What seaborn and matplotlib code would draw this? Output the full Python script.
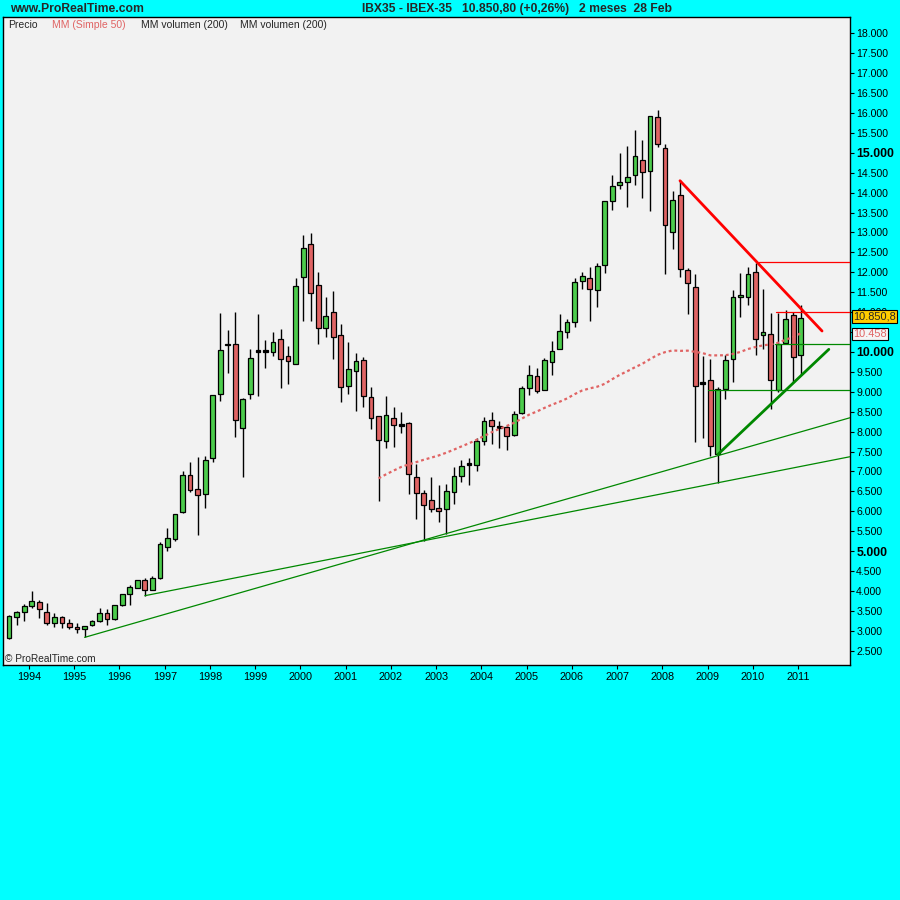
import numpy as np
import pandas as pd
import matplotlib
matplotlib.use('Agg')
import matplotlib.pyplot as plt
import matplotlib.transforms as mtransforms
import seaborn as sns

# velas bimestrales IBEX-35 (jul 1993 - feb 2011)
apertura = [2809, 3336, 3462, 3613, 3730, 3462, 3203, 3336, 3186, 3085,
            3035, 3136, 3236, 3445, 3286, 3638, 3914, 4065, 4266, 4023,
            4315, 5110, 5311, 5972, 6901, 6550, 6424, 7328, 8935, 10166,
            10191, 8082, 8935, 10007, 9998, 9990, 10317, 9890, 9689, 11873,
            12702, 11672, 10593, 10995, 10417, 9136, 9513, 9789, 8860, 8383,
            7755, 8333, 8148, 8207, 6851, 6449, 6273, 6072, 6047, 6474,
            6876, 7169, 7152, 7755, 8282, 8098, 8106, 7906, 8458, 9085,
            9386, 9035, 9738, 10064, 10491, 10742, 11772, 11847, 11546, 12173,
            13781, 14182, 14258, 14433, 14810, 14534, 15890, 15111, 13002, 13931,
            12048, 11622, 9203, 9286, 7428, 9060, 9814, 11371, 11371, 11998,
            10433, 10441, 9052, 10232, 10919, 9914]
maximo = [3387, 3487, 3663, 3998, 3772, 3688, 3437, 3370, 3303, 3186,
          3127, 3270, 3571, 3537, 3646, 3914, 4148, 4282, 4316, 4383,
          5219, 5571, 5922, 7001, 7228, 7353, 7378, 8910, 10969, 10542,
          10994, 8835, 10065, 10952, 10291, 10492, 10568, 10141, 11848, 12936,
          12978, 11999, 11371, 11522, 10693, 10241, 9965, 9865, 9111, 8383,
          8885, 8609, 8483, 8232, 7177, 6524, 6851, 6650, 6675, 7102,
          7278, 7328, 7839, 8357, 8483, 8274, 8173, 8508, 9136, 9662,
          9587, 9838, 10265, 10943, 10818, 11847, 11998, 12123, 12224, 13781,
          14433, 14986, 15162, 15563, 15312, 15915, 16066, 15212, 14032, 14308,
          12099, 11948, 9889, 9814, 9111, 9914, 11546, 11973, 12124, 12224,
          11572, 10969, 10969, 11044, 11011, 11170]
minimo = [2792, 3144, 3253, 3579, 3311, 3144, 3085, 3060, 3035, 2935,
          2834, 3127, 3211, 3144, 3270, 3621, 3638, 4065, 3880, 4023,
          4290, 5010, 5261, 5947, 6491, 5412, 6089, 7245, 8776, 9479,
          7872, 6868, 8810, 8902, 9605, 9906, 9103, 9203, 9689, 10785,
          10785, 10208, 10384, 9831, 8751, 8952, 8525, 8626, 8073, 6265,
          7596, 7621, 7956, 6441, 5813, 5261, 5989, 5738, 5437, 6190,
          6742, 6667, 7018, 7654, 7680, 7596, 7546, 7880, 8433, 8909,
          8960, 9035, 9411, 10064, 10341, 10617, 11571, 10767, 11119, 11973,
          13555, 14082, 13630, 14182, 13856, 13530, 15136, 11947, 12575, 11889,
          10944, 7746, 7830, 7395, 6700, 8826, 9253, 10885, 11186, 9931,
          10082, 8575, 8985, 10232, 9236, 9412]
cierre = [3370, 3462, 3621, 3738, 3537, 3203, 3336, 3203, 3085, 3035,
          3110, 3244, 3445, 3286, 3638, 3914, 4090, 4266, 4023, 4316,
          5169, 5320, 5922, 6901, 6542, 6399, 7278, 8910, 10040, 10166,
          8282, 8810, 9839, 10007, 9998, 10241, 9814, 9764, 11647, 12602,
          11472, 10593, 10894, 10367, 9111, 9563, 9764, 8885, 8333, 7780,
          8408, 8157, 8148, 6926, 6449, 6148, 6047, 5997, 6499, 6876,
          7127, 7169, 7755, 8257, 8131, 8098, 7880, 8433, 9086, 9411,
          9010, 9788, 10014, 10516, 10742, 11747, 11897, 11571, 12148, 13781,
          14157, 14258, 14383, 14910, 14509, 15915, 15212, 13178, 13806, 12073,
          11722, 9136, 9203, 7629, 9060, 9789, 11371, 11421, 11948, 10333,
          10508, 9286, 10190, 10818, 9864, 10851]
inicio = 1993.56  # fecha de la primera vela

# lineas de tendencia dibujadas (fecha, valor)
soporte_largo_f = [1995.23, 2012.15]
soporte_largo_v = [2834, 8349]
soporte_medio_f = [1996.56, 2012.15]
soporte_medio_v = [3880, 7370]
soporte_corto_f = [2009.23, 2011.68]
soporte_corto_v = [7430, 10066]
resistencia_f = [2008.39, 2011.53]
resistencia_v = [14299, 10526]
horiz_rojas_f = [2010.14, 2010.51]
horiz_rojas_v = [12258, 11010]
horiz_verdes_f = [2010.48, 2009.02]
horiz_verdes_v = [10199, 9044]

anios = list(range(1994, 2012))
niveles = list(range(2500, 18001, 500))

VERDE = '#4ccc4c'
ROJO = '#e06464'
CIAN = '#00ffff'

sns.set_style('white')
plt.rcParams['font.family'] = ['Liberation Sans', 'DejaVu Sans']

df = pd.DataFrame({'open': apertura, 'high': maximo, 'low': minimo, 'close': cierre})
df['fecha'] = inicio + np.arange(len(df)) / 6
df['mm50'] = df['close'].rolling(50).mean()
sube = df['close'] >= df['open']
doji = (df['close'] - df['open']).abs() < 30

fig = plt.figure(figsize=(9, 9), dpi=100, facecolor=CIAN)
ax = fig.add_axes([3 / 900, 235 / 900, 847 / 900, 648 / 900])
ax.set_facecolor('#f2f2f2')

# velas
ax.vlines(df['fecha'], df['low'], df['high'], color='black', lw=1.0, zorder=2)
cuerpo_base = np.minimum(df['open'], df['close'])
cuerpo_alto = np.maximum((df['close'] - df['open']).abs(), 45)
colores = np.where(doji, 'black', np.where(sube, VERDE, ROJO))
ax.bar(df['fecha'], cuerpo_alto, bottom=cuerpo_base, width=0.105, color=colores,
       edgecolor='black', linewidth=0.9, zorder=3)

# media movil simple 50
sns.lineplot(data=df, x='fecha', y='mm50', ax=ax, color=ROJO, lw=1.6,
             linestyle=(0, (1.3, 1.3)), zorder=4)

# lineas de tendencia
sns.lineplot(x=soporte_largo_f, y=soporte_largo_v, ax=ax, color='#008800', lw=0.9, zorder=5)
sns.lineplot(x=soporte_medio_f, y=soporte_medio_v, ax=ax, color='#008800', lw=0.9, zorder=5)
sns.lineplot(x=soporte_corto_f, y=soporte_corto_v, ax=ax, color='#008800', lw=2.0, zorder=5)
sns.lineplot(x=resistencia_f, y=resistencia_v, ax=ax, color='#ff0000', lw=2.0, zorder=5)
for f, v in zip(horiz_rojas_f, horiz_rojas_v):
    ax.plot([f, 2012.15], [v, v], color='#ff0000', lw=0.9, zorder=5)
for f, v in zip(horiz_verdes_f, horiz_verdes_v):
    ax.plot([f, 2012.15], [v, v], color='#008800', lw=0.9, zorder=5)

ax.set_xlim(1993.425, 2012.148)
ax.set_ylim(2140, 18410)
ax.set_xlabel('')
ax.set_ylabel('')

ax.set_xticks(anios, labels=[str(a) for a in anios])
ax.yaxis.tick_right()
ax.set_yticks(niveles, labels=[f'{n:,}'.replace(',', '.') for n in niveles])
for lbl, n in zip(ax.get_yticklabels(), niveles):
    if n % 5000 == 0:
        lbl.set_fontweight('bold')
        lbl.set_fontsize(8.8)
    else:
        lbl.set_fontsize(7.6)
ax.tick_params(axis='x', bottom=True, direction='out', length=3, width=0.8,
               pad=2, labelsize=7.8, colors='black')
ax.tick_params(axis='y', right=True, left=False, direction='out', length=3,
               width=0.8, pad=1.5, colors='black')
for s in ax.spines.values():
    s.set_color('black')
    s.set_linewidth(1.0)
ax.grid(False)

# etiquetas de precio a la derecha (tapan la etiqueta 11.000 como en el original)
trans = mtransforms.blended_transform_factory(ax.transAxes, ax.transData)
ax.text(1.004, cierre[-1] + 40, '10.850,8', transform=trans, fontsize=7.9, va='center',
        ha='left', clip_on=False, zorder=10,
        bbox=dict(boxstyle='square,pad=0.12', fc='#ffcc00', ec='black', lw=0.8))
ax.text(1.004, 10450, '10.458', transform=trans, fontsize=7.9, va='center',
        ha='left', color=ROJO, clip_on=False, zorder=9,
        bbox=dict(boxstyle='square,pad=0.12', fc='#f4f4f4', ec='black', lw=0.8))

# textos
fig.text(10 / 900, 1 - 9 / 900, 'www.ProRealTime.com', fontsize=8.7, weight='bold', va='center')
fig.text(362 / 900, 1 - 9 / 900, 'IBX35 - IBEX-35', fontsize=8.7, weight='bold', va='center')
fig.text(462 / 900, 1 - 9 / 900, '10.850,80 (+0,26%)', fontsize=8.7, weight='bold', va='center')
fig.text(579 / 900, 1 - 9 / 900, '2 meses  28 Feb', fontsize=8.7, weight='bold', va='center')
fig.text(8 / 900, 1 - 24.5 / 900, 'Precio', fontsize=7.5, va='center')
fig.text(52 / 900, 1 - 24.5 / 900, 'MM (Simple 50)', fontsize=7.5, va='center', color=ROJO)
fig.text(141 / 900, 1 - 24.5 / 900, 'MM volumen (200)', fontsize=7.5, va='center')
fig.text(240 / 900, 1 - 24.5 / 900, 'MM volumen (200)', fontsize=7.5, va='center')
fig.text(5 / 900, 1 - 659.5 / 900, '\u00a9 ProRealTime.com', fontsize=7.3, va='center')

fig.savefig('out.png', dpi=100, facecolor=CIAN)
